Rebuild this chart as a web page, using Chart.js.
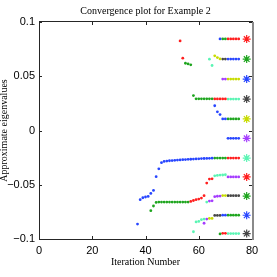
<!DOCTYPE html>
<html>
<head>
<meta charset="utf-8">
<script src="https://cdn.jsdelivr.net/npm/chart.js@4"></script>
<style>
  body { margin: 0; background: #fff; }
</style>
</head>
<body>
<canvas id="conv-chart" width="277" height="277"></canvas>
<script>
/* Ritz values per iteration, grouped by marker colour: [iteration, value] */
const blueDots = [
  [68, 0.0844],
  [71, 0.0658], [72, 0.0658], [73, 0.0658], [74, 0.0658], [75, 0.0658],
  [66, 0.0228], [67, 0.0172], [68, 0.0147], [69, 0.0107], [70, 0.0107],
  [71, -0.0072], [72, -0.0072], [73, -0.0072], [74, -0.0072], [75, -0.0072],
  [37, -0.0862], [38, -0.0638], [39, -0.0620], [40, -0.0613], [41, -0.0608],
  [42, -0.0580], [43, -0.0552], [44, -0.0426], [45, -0.0353], [46, -0.0297],
  [47, -0.0285], [48, -0.0282], [49, -0.0279], [50, -0.0277], [51, -0.0275],
  [52, -0.0273], [53, -0.0271], [54, -0.0269], [55, -0.0268], [56, -0.0266],
  [57, -0.0265], [58, -0.0263], [59, -0.0262], [60, -0.0261], [61, -0.0259],
  [62, -0.0258], [63, -0.0257], [64, -0.0256], [65, -0.0255],
  [69, -0.0780], [70, -0.0780]
];
const greenDots = [
  [69, 0.0844], [70, 0.0844],
  [55, 0.0620], [56, 0.0614], [57, 0.0605],
  [58, 0.0322], [59, 0.0292], [60, 0.0292], [61, 0.0292], [62, 0.0292],
  [63, 0.0292], [64, 0.0292], [65, 0.0292],
  [71, 0.0107], [72, 0.0107], [73, 0.0107], [74, 0.0107], [75, 0.0107],
  [66, -0.0254], [67, -0.0254], [68, -0.0254], [69, -0.0254], [70, -0.0254],
  [42, -0.0739], [43, -0.0696], [44, -0.0663], [45, -0.0660], [46, -0.0660],
  [47, -0.0660], [48, -0.0660], [49, -0.0660], [50, -0.0660], [51, -0.0660],
  [52, -0.0660], [53, -0.0660], [54, -0.0660], [55, -0.0660], [56, -0.0660],
  [71, -0.0780], [72, -0.0780], [73, -0.0780], [74, -0.0780], [75, -0.0780],
  [68, -0.0953]
];
const redDots = [
  [53, 0.0826],
  [71, 0.0844], [72, 0.0844], [73, 0.0844], [74, 0.0844], [75, 0.0844],
  [54, 0.0667],
  [66, 0.0291], [67, 0.0291], [68, 0.0291], [69, 0.0291], [70, 0.0291],
  [71, -0.0254], [72, -0.0254], [73, -0.0254], [74, -0.0254], [75, -0.0254],
  [57, -0.0654], [58, -0.0645], [59, -0.0638], [60, -0.0632], [61, -0.0623],
  [62, -0.0601], [63, -0.0485], [64, -0.0448], [65, -0.0445],
  [69, -0.0948], [70, -0.0948]
];
const cyanDots = [
  [64, 0.0657], [65, 0.0599],
  [71, 0.0290], [72, 0.0290], [73, 0.0290], [74, 0.0290], [75, 0.0290],
  [66, -0.0418], [67, -0.0414], [68, -0.0411], [69, -0.0410], [70, -0.0408],
  [63, -0.0660],
  [58, -0.0933], [59, -0.0843], [60, -0.0838], [61, -0.0822], [62, -0.0816],
  [71, -0.0950], [72, -0.0950], [73, -0.0950], [74, -0.0950], [75, -0.0950]
];
const purpleDots = [
  [69, 0.0474], [70, 0.0474],
  [71, -0.0428], [72, -0.0428], [73, -0.0428], [74, -0.0428], [75, -0.0428],
  [64, -0.0650], [65, -0.0648], [66, -0.0610], [67, -0.0606], [68, -0.0604],
  [62, -0.0855], [63, -0.0816]
];
const yellowDots = [
  [66, 0.0688], [67, 0.0672], [68, 0.0660],
  [71, 0.0474], [72, 0.0474], [73, 0.0474], [74, 0.0474], [75, 0.0474],
  [69, -0.0600], [70, -0.0600],
  [64, -0.0810], [65, -0.0810]
];
const blackDots = [
  [69, 0.0658], [70, 0.0658],
  [71, -0.0601], [72, -0.0601], [73, -0.0601], [74, -0.0601], [75, -0.0601],
  [66, -0.0783], [67, -0.0783], [68, -0.0783]
];

/* exact eigenvalues, drawn as stars after the last iteration */
const exactIteration = 78;
const exactEigenvalues = [0.0843, 0.0658, 0.0474, 0.0290, 0.0107, -0.0072,
  -0.0254, -0.0428, -0.0604, -0.0781, -0.0950];

const xTicks = [0, 20, 40, 60, 80];
const yTicks = [-0.1, -0.05, 0, 0.05, 0.1];

const C = {
  b: 'rgb(40, 70, 255)',
  g: 'rgb(30, 165, 30)',
  r: 'rgb(255, 30, 30)',
  c: 'rgb(90, 245, 180)',
  m: 'rgb(165, 60, 255)',
  y: 'rgb(200, 220, 0)',
  k: 'rgb(70, 70, 70)'
};
const starColours = [C.r, C.g, C.b, C.k, C.y, C.m, C.c, C.r, C.g, C.b, C.k];

const toXY = arr => arr.map(p => ({ x: p[0], y: p[1] }));
const dots = (pts, col) => ({
  data: toXY(pts),
  backgroundColor: col,
  borderWidth: 0,
  pointRadius: 1.4,
  pointStyle: 'circle'
});

const datasets = [
  dots(blueDots, C.b),
  dots(greenDots, C.g),
  dots(redDots, C.r),
  dots(cyanDots, C.c),
  dots(purpleDots, C.m),
  dots(yellowDots, C.y),
  dots(blackDots, C.k),
  {
    data: exactEigenvalues.map(v => ({ x: exactIteration, y: v })),
    pointStyle: 'star',
    pointRadius: 4,
    borderWidth: 1.2,
    borderColor: starColours,
    backgroundColor: starColours
  }
];

/* MATLAB style box with inward ticks */
const boxPlugin = {
  id: 'box',
  afterDraw(chart) {
    const { ctx, chartArea: a, scales } = chart;
    ctx.save();
    ctx.strokeStyle = '#262626';
    ctx.lineWidth = 1;
    ctx.beginPath();
    xTicks.forEach(t => {
      const px = Math.round(scales.x.getPixelForValue(t)) + 0.5;
      ctx.moveTo(px, a.bottom); ctx.lineTo(px, a.bottom - 3);
      ctx.moveTo(px, a.top); ctx.lineTo(px, a.top + 3);
    });
    yTicks.forEach(t => {
      const py = Math.round(scales.y.getPixelForValue(t)) + 0.5;
      ctx.moveTo(a.left, py); ctx.lineTo(a.left + 3, py);
      ctx.moveTo(a.right, py); ctx.lineTo(a.right - 3, py);
    });
    ctx.stroke();
    ctx.strokeRect(Math.round(a.left) + 0.5, Math.round(a.top) - 0.5,
      Math.round(a.right - a.left), Math.round(a.bottom - a.top) + 1);
    ctx.strokeStyle = '#8a8a8a';
    ctx.lineWidth = 2;
    ctx.beginPath();
    ctx.moveTo(Math.round(a.right) + 1, a.top);
    ctx.lineTo(Math.round(a.right) + 1, a.bottom + 1);
    ctx.stroke();
    ctx.restore();
  }
};

const serif = 'Liberation Serif';
const sans = 'Liberation Sans';

const config = {
  type: 'scatter',
  data: { datasets: datasets },
  options: {
    responsive: false,
    animation: false,
    devicePixelRatio: 1,
    layout: { padding: { left: 0, right: 25, top: 0, bottom: 0 } },
    plugins: {
      legend: { display: false },
      tooltip: { enabled: false },
      title: { display: false }
    },
    scales: {
      x: {
        type: 'linear',
        min: 0,
        max: 80,
        afterBuildTicks: s => { s.ticks = xTicks.map(v => ({ value: v })); },
        afterFit: s => { s.height = 38; },
        grid: { display: false, drawTicks: false },
        border: { display: false },
        ticks: {
          color: '#000',
          padding: 5,
          maxRotation: 0,
          font: { family: sans, size: 11 }
        },
        title: {
          display: true,
          text: 'Iteration Number',
          color: '#000',
          font: { family: serif, size: 10 },
          padding: { top: 0, bottom: 9 }
        }
      },
      // top axis only carries the plot title, centred over the plot box
      xTop: {
        type: 'linear',
        position: 'top',
        min: 0,
        max: 80,
        afterFit: s => { s.height = 22; },
        grid: { display: false, drawTicks: false },
        border: { display: false },
        ticks: { display: false },
        title: {
          display: true,
          text: 'Convergence plot for Example 2',
          color: '#000',
          font: { family: serif, size: 10 },
          padding: { top: 5, bottom: 0 }
        }
      },
      y: {
        min: -0.1,
        max: 0.1,
        afterBuildTicks: s => { s.ticks = yTicks.map(v => ({ value: v })); },
        afterFit: s => { s.width = 39; },
        grid: { display: false, drawTicks: false },
        border: { display: false },
        ticks: {
          color: '#000',
          padding: 4,
          font: { family: sans, size: 11 },
          callback: v => String(Number(v.toFixed(2))).replace('-', '\u2212')
        },
        title: {
          display: true,
          text: 'Approximate eigenvalues',
          color: '#000',
          font: { family: serif, size: 10 },
          padding: { top: -2, bottom: 0 }
        }
      }
    }
  },
  plugins: [boxPlugin]
};

const convChart = new Chart(document.getElementById('conv-chart'), config);
</script>
</body>
</html>
